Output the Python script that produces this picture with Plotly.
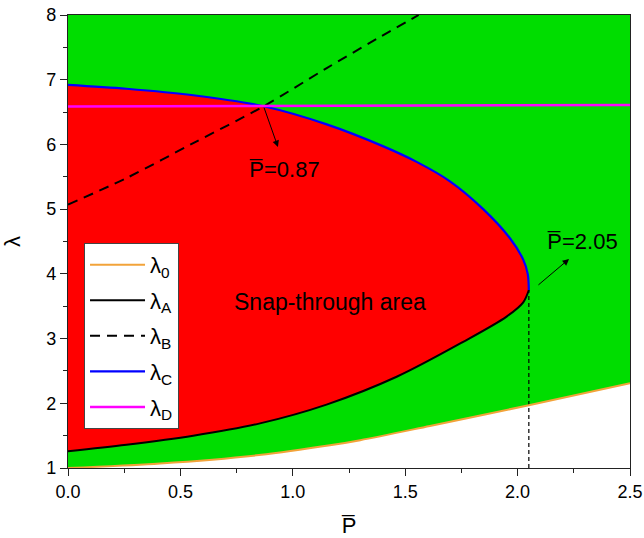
import plotly.graph_objects as go

# axis extents
P_MIN, P_MAX = 0.0, 2.5
LAM_MIN, LAM_MAX = 1.0, 8.0

# lambda_0: lower limit (bottom of the green zone)
p_0 = [0.0, 0.41, 0.85, 1.165, 1.30, 1.61, 2.05, 2.5]
lam_0 = [1.0, 1.07, 1.20, 1.35, 1.43, 1.65, 1.97, 2.31]

# lambda_A: lower branch of the snap-through zone
p_A = [0.0, 0.26, 0.557, 0.854, 1.15, 1.462, 1.758, 1.951, 2.025, 2.05]
lam_A = [1.26, 1.36, 1.50, 1.69, 1.98, 2.41, 2.95, 3.34, 3.56, 3.75]

# lambda_B: dashed curve
p_B = [0.0, 0.26, 0.557, 0.87, 1.151, 1.373, 1.56]
lam_B = [5.07, 5.48, 6.02, 6.59, 7.18, 7.63, 8.0]

# lambda_C: upper branch of the snap-through zone
p_C = [0.0, 0.26, 0.557, 0.87, 1.151, 1.403, 1.551, 1.699, 1.847, 1.966, 2.025, 2.045, 2.05]
lam_C = [6.92, 6.86, 6.76, 6.59, 6.31, 5.97, 5.73, 5.43, 5.0, 4.55, 4.22, 4.0, 3.75]

# lambda_D: nearly flat line
p_D = [0.0, 2.5]
lam_D = [6.585, 6.61]

# critical points
P_CROSS, LAM_CROSS = 0.87, 6.59
P_NOSE, LAM_NOSE = 2.05, 3.75

GREEN = "#00DD00"
RED = "#FF0000"
ORANGE = "#F2A33A"
FONT = "Liberation Sans, Arial, sans-serif"
SMOOTH = 0.9

fig = go.Figure()

# green zone between lambda_0 and the top of the axis
fig.add_trace(go.Scatter(x=[P_MIN, P_MAX], y=[LAM_MAX, LAM_MAX], mode="lines",
                         line=dict(width=0), showlegend=False, hoverinfo="skip"))
fig.add_trace(go.Scatter(x=p_0, y=lam_0, mode="lines",
                         line=dict(width=0, shape="spline", smoothing=SMOOTH),
                         fill="tonexty", fillcolor=GREEN, showlegend=False, hoverinfo="skip"))

# red snap-through zone between lambda_A and lambda_C
fig.add_trace(go.Scatter(x=p_A, y=lam_A, mode="lines",
                         line=dict(width=0, shape="spline", smoothing=SMOOTH),
                         showlegend=False, hoverinfo="skip"))
fig.add_trace(go.Scatter(x=p_C, y=lam_C, mode="lines",
                         line=dict(width=0, shape="spline", smoothing=SMOOTH),
                         fill="tonexty", fillcolor=RED, showlegend=False, hoverinfo="skip"))

# vertical marker at the nose
fig.add_trace(go.Scatter(x=[P_NOSE, P_NOSE], y=[LAM_MIN, LAM_NOSE], mode="lines",
                         line=dict(color="black", width=1.2, dash="4px,3px"),
                         showlegend=False, hoverinfo="skip"))

# curves
curves = [
    ("λ<sub>0</sub>", p_0, lam_0, dict(color=ORANGE, width=2)),
    ("λ<sub>A</sub>", p_A, lam_A, dict(color="black", width=2)),
    ("λ<sub>B</sub>", p_B, lam_B, dict(color="black", width=2, dash="10px,7px")),
    ("λ<sub>C</sub>", p_C, lam_C, dict(color="#0000FF", width=2.2)),
    ("λ<sub>D</sub>", p_D, lam_D, dict(color="#FF00FF", width=2.5)),
]
for name, xs, ys, ln in curves:
    ln = dict(ln, shape="spline", smoothing=SMOOTH)
    fig.add_trace(go.Scatter(x=xs, y=ys, mode="lines", name=name, line=ln,
                             legendgroup=name))

annots = [
    # arrows
    dict(x=0.934, y=5.96, ax=P_CROSS, ay=LAM_CROSS, axref="x", ayref="y",
         xref="x", yref="y", text="", showarrow=True, arrowhead=2, arrowsize=1.3,
         arrowwidth=1, arrowcolor="black"),
    dict(x=2.229, y=4.23, ax=2.086, ay=3.81, axref="x", ayref="y",
         xref="x", yref="y", text="", showarrow=True, arrowhead=2, arrowsize=1.3,
         arrowwidth=1, arrowcolor="black"),
    # labels
    dict(x=0.964, y=5.62, xref="x", yref="y", text="P\u0305=0.87", showarrow=False,
         font=dict(size=22, color="black", family=FONT)),
    dict(x=2.289, y=4.5, xref="x", yref="y", text="P\u0305=2.05", showarrow=False,
         font=dict(size=22, color="black", family=FONT)),
    dict(x=1.166, y=3.57, xref="x", yref="y", text="Snap-through area", showarrow=False,
         font=dict(size=23, color="black", family=FONT)),
]

axis_common = dict(
    showline=True, linecolor="#222", linewidth=1.3, mirror=True,
    ticks="outside", ticklen=7, tickwidth=1.3, tickcolor="#222",
    showgrid=False, zeroline=False, automargin=False,
    tickfont=dict(size=18, color="black", family=FONT),
)

fig.update_layout(
    width=644, height=538,
    margin=dict(l=68, r=14, t=15, b=70, autoexpand=False),
    paper_bgcolor="white", plot_bgcolor="white",
    font=dict(family=FONT, color="black"),
    xaxis=dict(axis_common, range=[P_MIN, P_MAX], dtick=0.5, tickformat=".1f",
               minor=dict(ticks="outside", ticklen=4, dtick=0.25, tickcolor="#222"),
               title=dict(text="P\u0305", font=dict(size=22, family=FONT), standoff=22)),
    yaxis=dict(axis_common, range=[LAM_MIN, LAM_MAX], dtick=1,
               minor=dict(ticks="outside", ticklen=4, dtick=0.5, tickcolor="#222"),
               title=dict(text="λ", font=dict(size=22, family=FONT), standoff=20)),
    legend=dict(x=0.0285, y=0.497, xanchor="left", yanchor="top",
                bgcolor="white", bordercolor="#444", borderwidth=1,
                font=dict(size=22, family=FONT, color="black"),
                tracegroupgap=4, itemwidth=55),
    annotations=annots,
    showlegend=True,
)

fig.write_html("out.html")
